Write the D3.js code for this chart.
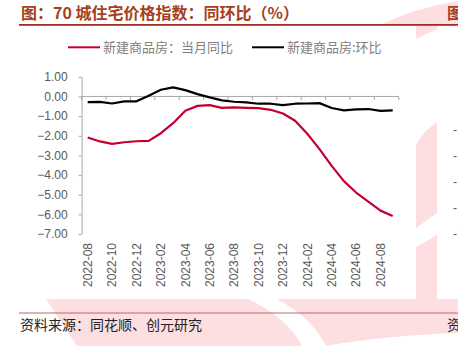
<!DOCTYPE html>
<html><head><meta charset="utf-8">
<script src="https://cdn.jsdelivr.net/npm/d3@7"></script>
<style>body{margin:0;background:#fff;overflow:hidden}</style>
</head><body>
<script>
const categories = ["2022-08","2022-09","2022-10","2022-11","2022-12","2023-01","2023-02","2023-03","2023-04","2023-05","2023-06","2023-07","2023-08","2023-09","2023-10","2023-11","2023-12","2024-01","2024-02","2024-03","2024-04","2024-05","2024-06","2024-07","2024-08","2024-09"];
const yoyValues = [-2.09,-2.29,-2.41,-2.33,-2.28,-2.26,-1.87,-1.36,-0.73,-0.48,-0.44,-0.58,-0.56,-0.58,-0.59,-0.68,-0.87,-1.24,-1.90,-2.68,-3.53,-4.31,-4.89,-5.35,-5.81,-6.08];
const momValues = [-0.29,-0.28,-0.36,-0.25,-0.25,0.04,0.34,0.46,0.32,0.12,-0.05,-0.20,-0.27,-0.30,-0.37,-0.37,-0.44,-0.37,-0.36,-0.34,-0.59,-0.71,-0.66,-0.64,-0.73,-0.71];
const yTicks = [1,0,-1,-2,-3,-4,-5,-6,-7];
const seriesNames = ["新建商品房：当月同比","新建商品房:环比"];
const titleText = "图：70 城住宅价格指数：同环比（%）";
const sourceText = "资料来源：同花顺、创元研究";

const W = 458, H = 346;
const svg = d3.select("body").append("svg").attr("width", W).attr("height", H);

// watermark background
const pink = "#FDDFE2";
const wm = svg.append("g");
wm.append("path").attr("fill", pink).attr("d", "M380,25 Q415,8 458,1 L458,25 Z");
wm.append("path").attr("fill", pink).attr("d", "M416,25 L437,25 L437,29 L416,39 Z");
wm.append("path").attr("fill", pink).attr("d", "M416,145 Q424,130 437,122 L437,213 L416,228 Z");
wm.append("path").attr("fill", pink).attr("d", "M416,247 L437,235 L437,300 L416,300 Z");
wm.append("path").attr("fill", pink).attr("d", "M46,299 L458,299 L458,346 L77,346 Z");
wm.append("path").attr("fill", "#fff").attr("d", "M248,299 L277,299 Q312,318 326,346 L302,346 Q288,318 248,299 Z");
wm.append("path").attr("fill", "#fff").attr("d", "M326,346 Q380,336 458,333 L458,346 Z");

// title
svg.append("text").attr("x", 21).attr("y", 19)
  .style("font-family", "'Noto Sans CJK SC', sans-serif").style("font-weight", "bold")
  .style("font-size", "16px").attr("fill", "#A63F1C").text(titleText);
svg.append("text").attr("x", 447).attr("y", 19)
  .style("font-family", "'Noto Sans CJK SC', sans-serif").style("font-weight", "bold")
  .style("font-size", "16px").attr("fill", "#A63F1C").text(titleText.slice(0,1));
svg.append("line").attr("x1", 19).attr("x2", W).attr("y1", 24.8).attr("y2", 24.8)
  .attr("stroke", "#9E2A22").attr("stroke-width", 1.8);

// legend
const colors = ["#C5002F", "#000000"];
const legendX = [68, 252];
seriesNames.forEach((name, i) => {
  svg.append("line").attr("x1", legendX[i]).attr("x2", legendX[i] + 32).attr("y1", 47.3).attr("y2", 47.3)
    .attr("stroke", colors[i]).attr("stroke-width", 2);
  svg.append("text").attr("x", legendX[i] + 35).attr("y", 52)
    .style("font-family", "'Noto Sans CJK SC', sans-serif").style("font-size", "13px")
    .attr("fill", "#7F7F7F").text(name);
});

// scales
const x = d3.scaleBand().domain(categories).range([81.6, 398.8]).padding(0);
const y = d3.scaleLinear().domain([-7, 1]).range([234, 76.8]);
const cx = c => x(c) + x.bandwidth() / 2;
const grey = "#A6A6A6";

// y axis
const yAxis = svg.append("g").attr("transform", `translate(${x.range()[0]},0)`)
  .call(d3.axisLeft(y).tickValues(yTicks).tickFormat(d3.format(".2f")).tickSize(3).tickSizeOuter(0).tickPadding(11));
yAxis.select(".domain").attr("stroke", grey);
yAxis.selectAll(".tick line").attr("stroke", grey);
yAxis.selectAll(".tick text").attr("fill", "#595959")
  .style("font-family", "'Liberation Sans', Arial, sans-serif").style("font-size", "12px");

// x axis line at zero with tick marks at every second boundary
const xAxisG = svg.append("g");
xAxisG.append("line").attr("x1", x.range()[0]).attr("x2", x.range()[1])
  .attr("y1", y(0)).attr("y2", y(0)).attr("stroke", grey).attr("stroke-width", 1);
const boundaries = categories.filter((c, i) => i % 2 === 0).map(c => x(c)).concat([x.range()[1]]);
xAxisG.selectAll("line.tk").data(boundaries).enter().append("line").attr("class", "tk")
  .attr("x1", d => d).attr("x2", d => d).attr("y1", y(0)).attr("y2", y(0) + 3.5)
  .attr("stroke", grey);

// x labels at bottom
const xLab = svg.append("g").attr("transform", `translate(0,${y(-7)})`)
  .call(d3.axisBottom(x).tickValues(categories.filter((c, i) => i % 2 === 0)).tickSize(0).tickPadding(0));
xLab.select(".domain").remove();
xLab.selectAll(".tick text")
  .attr("transform", "rotate(-90)").attr("text-anchor", "end")
  .attr("x", -9).attr("y", 0).attr("dy", "0.35em")
  .attr("fill", "#595959")
  .style("font-family", "'Liberation Sans', Arial, sans-serif").style("font-size", "12px");

// lines
const line = d3.line().x((d, i) => cx(categories[i])).y(d => y(d));
svg.append("path").datum(yoyValues).attr("d", line).attr("fill", "none")
  .attr("stroke", colors[0]).attr("stroke-width", 2.2).attr("stroke-linejoin", "round");
svg.append("path").datum(momValues).attr("d", line).attr("fill", "none")
  .attr("stroke", colors[1]).attr("stroke-width", 2.2).attr("stroke-linejoin", "round");

// partial neighbour chart ticks on right edge
const rightLabels = [["-",130],["-",156],["-",182],["-",208],["-1",234]];
rightLabels.forEach(([t, yy]) => {
  svg.append("text").attr("x", 453).attr("y", yy + 4).attr("fill", "#595959")
    .style("font-family", "'Liberation Sans', Arial, sans-serif").style("font-size", "12px").text(t);
});

// source
svg.append("line").attr("x1", 19).attr("x2", W).attr("y1", 313).attr("y2", 313)
  .attr("stroke", "#B86A6A").attr("stroke-width", 1);
svg.append("text").attr("x", 20).attr("y", 330)
  .style("font-family", "'Noto Sans CJK SC', sans-serif").style("font-size", "14px")
  .attr("fill", "#222").text(sourceText);
svg.append("text").attr("x", 447).attr("y", 330)
  .style("font-family", "'Noto Sans CJK SC', sans-serif").style("font-size", "14px")
  .attr("fill", "#222").text(sourceText.slice(0,1));
</script>
</body></html>
